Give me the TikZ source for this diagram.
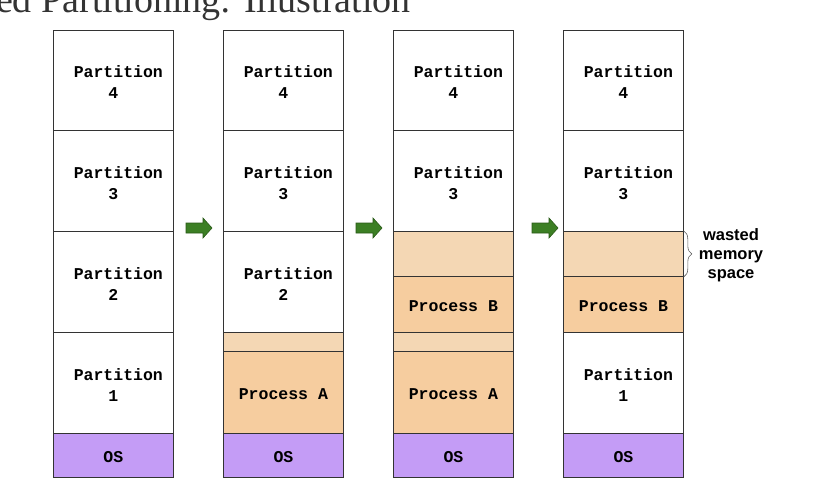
\documentclass[tikz,border=0pt]{standalone}
\usepackage{fontspec}
\setmainfont{Liberation Serif}
\newfontfamily\cellfont{Liberation Mono}
\newfontfamily\notefont{Liberation Sans}
\usetikzlibrary{decorations.pathreplacing}
\definecolor{wastefill}{HTML}{F4D7B4}
\definecolor{procfill}{HTML}{F6CD9F}
\definecolor{osfill}{HTML}{C49CF6}
\definecolor{linecol}{HTML}{333333}
\definecolor{arrowfill}{HTML}{3C7F24}
\definecolor{arrowline}{HTML}{2A5A18}
\definecolor{titlecol}{HTML}{333333}
\tikzset{
  cell/.style={draw=linecol, line width=0.8pt, minimum width=120pt, inner sep=0pt},
  celltext/.style={align=center, inner sep=0pt,
    font=\cellfont\bfseries\fontsize{16.5}{21}\selectfont},
  part/.style={cell, fill=white},
  waste/.style={cell, fill=wastefill},
  proc/.style={cell, fill=procfill},
  oscell/.style={cell, fill=osfill},
  steparrow/.style={draw=arrowline, fill=arrowfill, line width=0.6pt, line join=miter},
}
% box: style, name, left x, top y, bottom y, text
\newcommand{\memcell}[6]{%
  \node[#1, minimum height={(#5-#4)*1pt}, anchor=north west] (#2) at (#3,#4) {};
  \node[celltext] (#2-text) at ([yshift=-2pt]#2.center) {#6};}
% step arrow: name, left x
\newcommand{\steparrowat}[2]{%
  \coordinate (#1) at (#2,228);
  \draw[steparrow] (#1) ++(0,-5) -- ++(17,0) -- ++(0,-5) -- ++(9,10) -- ++(-9,10)
    -- ++(0,-5) -- ++(-17,0) -- cycle;}
\begin{document}
\begin{tikzpicture}[x=1pt,y=-1pt]
\useasboundingbox (0,0) rectangle (816,482);
\clip (0,0) rectangle (816,482);
\node[anchor=base east, font=\fontsize{38}{40}\selectfont, text=titlecol, inner sep=0pt] (title) at (411,12) {Fixed Partitioning: Illustration};
% column 1
\memcell{part}{ap4}{53}{30}{130}{\hphantom{x}Partition\\4}
\memcell{part}{ap3}{53}{130}{231}{\hphantom{x}Partition\\3}
\memcell{part}{ap2}{53}{231}{332}{\hphantom{x}Partition\\2}
\memcell{part}{ap1}{53}{332}{433}{\hphantom{x}Partition\\1}
\memcell{oscell}{aos}{53}{433}{477}{OS}
% column 2
\memcell{part}{bp4}{223}{30}{130}{\hphantom{x}Partition\\4}
\memcell{part}{bp3}{223}{130}{231}{\hphantom{x}Partition\\3}
\memcell{part}{bp2}{223}{231}{332}{\hphantom{x}Partition\\2}
\memcell{waste}{bw1}{223}{332}{351}{}
\memcell{proc}{bpa}{223}{351}{433}{Process A}
\memcell{oscell}{bos}{223}{433}{477}{OS}
% column 3
\memcell{part}{cp4}{393}{30}{130}{\hphantom{x}Partition\\4}
\memcell{part}{cp3}{393}{130}{231}{\hphantom{x}Partition\\3}
\memcell{waste}{cw2}{393}{231}{276}{}
\memcell{proc}{cpb}{393}{276}{332}{Process B}
\memcell{waste}{cw1}{393}{332}{351}{}
\memcell{proc}{cpa}{393}{351}{433}{Process A}
\memcell{oscell}{cos}{393}{433}{477}{OS}
% column 4
\memcell{part}{dp4}{563}{30}{130}{\hphantom{x}Partition\\4}
\memcell{part}{dp3}{563}{130}{231}{\hphantom{x}Partition\\3}
\memcell{waste}{dw2}{563}{231}{276}{}
\memcell{proc}{dpb}{563}{276}{332}{Process B}
\memcell{part}{dp1}{563}{332}{433}{\hphantom{x}Partition\\1}
\memcell{oscell}{dos}{563}{433}{477}{OS}
% arrows
\steparrowat{arr1}{186}
\steparrowat{arr2}{356}
\steparrowat{arr3}{532}
% brace and note
\draw[draw=linecol!80, line width=0.6pt, decorate, decoration={brace, amplitude=8pt}]
  (dw2.north east) -- (dw2.south east);
\node[font=\notefont\bfseries\fontsize{16.5}{19}\selectfont, align=center, inner sep=0pt] (note) at (731,255) {wasted\\memory\\space};
\end{tikzpicture}
\end{document}
